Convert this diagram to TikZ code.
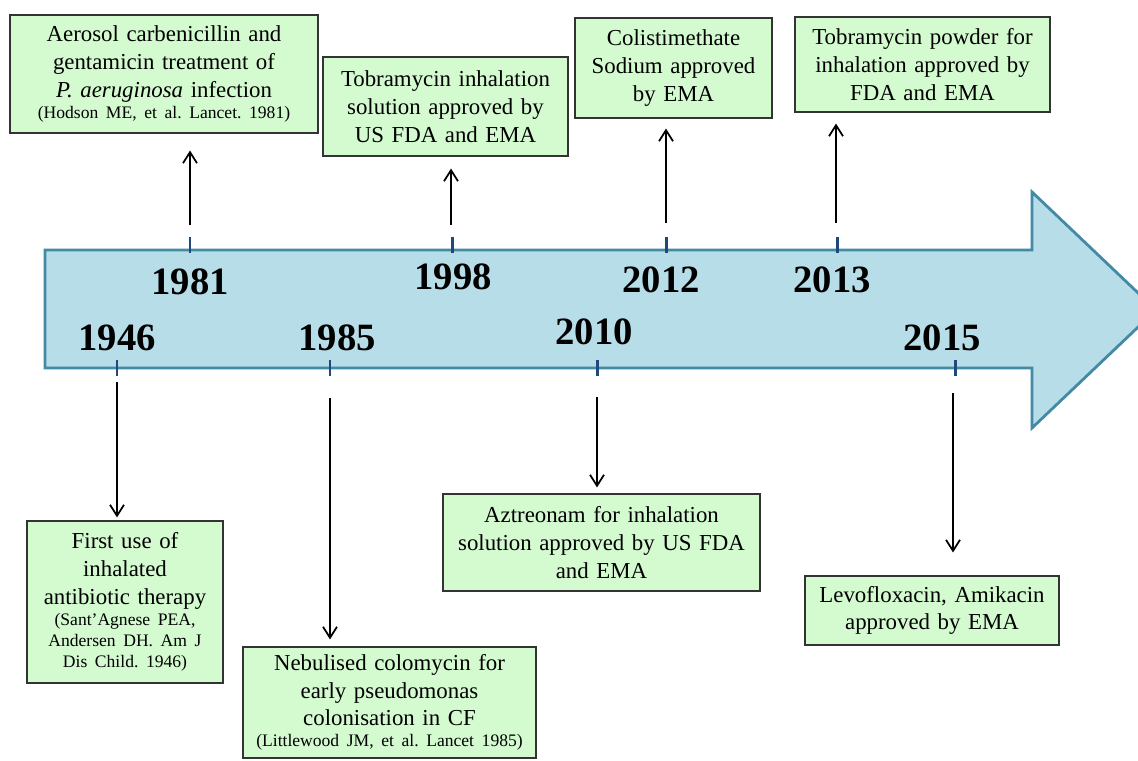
\documentclass[tikz,border=0pt]{standalone}
\usepackage{fontspec}
\setmainfont{Liberation Serif}
\usetikzlibrary{arrows.meta}

\definecolor{barfill}{RGB}{183,221,232}
\definecolor{barline}{RGB}{66,138,165}
\definecolor{tickblue}{RGB}{31,73,125}
\definecolor{boxgreen}{RGB}{212,250,208}
\newcommand{\refnote}{\fontsize{10}{12}\selectfont}
\frenchspacing

\tikzset{
	event/.style={draw=black!80, fill=boxgreen, line width=0.7pt, align=center,
		inner xsep=0pt, inner ysep=2pt, font=\fontsize{13}{15.8}\selectfont},
	boxdim/.style 2 args={minimum width=#1, text width=#1, minimum height=#2},
	yearlbl/.style={font=\fontsize{22}{25}\selectfont\bfseries},
	conn/.style={-{Straight Barb[length=2.2mm,width=2.8mm]}, line width=1pt},
	yeartick/.style={tickblue, line width=1.7pt},
}

\begin{document}
\begin{tikzpicture}[x=0.02cm, y=-0.02cm]
	\useasboundingbox (0,0) rectangle (1138,760);
	% time bar
	\draw[barline, fill=barfill, line width=1.6pt, line join=miter]
		(45,250) -- (1032,250) -- (1032,192) -- (1156,310) -- (1032,428)
		-- (1032,368) -- (45,368) -- cycle;
	\foreach \x in {190,452,666,837} \draw[yeartick] (\x,237) -- (\x,253);
	\foreach \x in {117,330,597,955} \draw[yeartick] (\x,360) -- (\x,376);
	% years
	\foreach \yr/\x/\y in {1981/190/282, 1946/117/338, 1985/337/338, 1998/453/277,
		2012/661/280, 2010/594/332, 2013/832/280, 2015/942/338}
		\node[yearlbl] (y\yr) at (\x,\y) {\yr};
	% events above
	\node[event, boxdim={6.16cm}{2.36cm}] (b1981) at (164,74)
		{Aerosol carbenicillin and\\ gentamicin treatment of\\ \textit{P. aeruginosa} infection\par
		{\refnote (Hodson ME, et al. Lancet. 1981)\par}};
	\node[event, boxdim={4.9cm}{1.98cm}] (b1998) at (445.5,106.5)
		{Tobramycin inhalation\\ solution approved by\\ US FDA and EMA};
	\node[event, boxdim={3.94cm}{2.0cm}] (b2012) at (673.5,68)
		{Colistimethate\\ Sodium approved\\ by EMA};
	\node[event, boxdim={5.1cm}{1.9cm}] (b2013) at (922.5,64.5)
		{Tobramycin powder for\\ inhalation approved by\\ FDA and EMA};
	% events below
	\node[event, boxdim={3.92cm}{3.24cm}] (b1946) at (125,602)
		{First use of\\ inhalated\\ antibiotic therapy\par
		{\refnote (Sant'Agnese PEA,\\ Andersen DH. Am J\\ Dis Child. 1946)\par}};
	\node[event, boxdim={5.86cm}{2.22cm}] (b1985) at (389.5,702.5)
		{Nebulised colomycin for\\ early pseudomonas\\ colonisation in CF\par
		{\refnote (Littlewood JM, et al. Lancet 1985)\par}};
	\node[event, boxdim={6.34cm}{1.94cm}] (b2010) at (601.5,542.5)
		{Aztreonam for inhalation\\ solution approved by US FDA\\ and EMA};
	\node[event, boxdim={5.08cm}{1.38cm}] (b2015) at (932,610.5)
		{Levofloxacin, Amikacin\\ approved by EMA};
	% connectors
	\foreach \yr/\x/\y/\side/\gap in {1981/190/225/south/17, 1998/451/225/south/12,
		2012/666/223/south/10, 2013/836/223/south/11, 1946/117/382/north/3,
		1985/330/398/north/7, 2010/597/397/north/6, 2015/953/393/north/23} {
		\coordinate (s\yr) at (\x,\y);
		\draw[conn, shorten >=\gap*0.567pt] (s\yr) -- (b\yr.\side -| s\yr);
	}
\end{tikzpicture}
\end{document}
